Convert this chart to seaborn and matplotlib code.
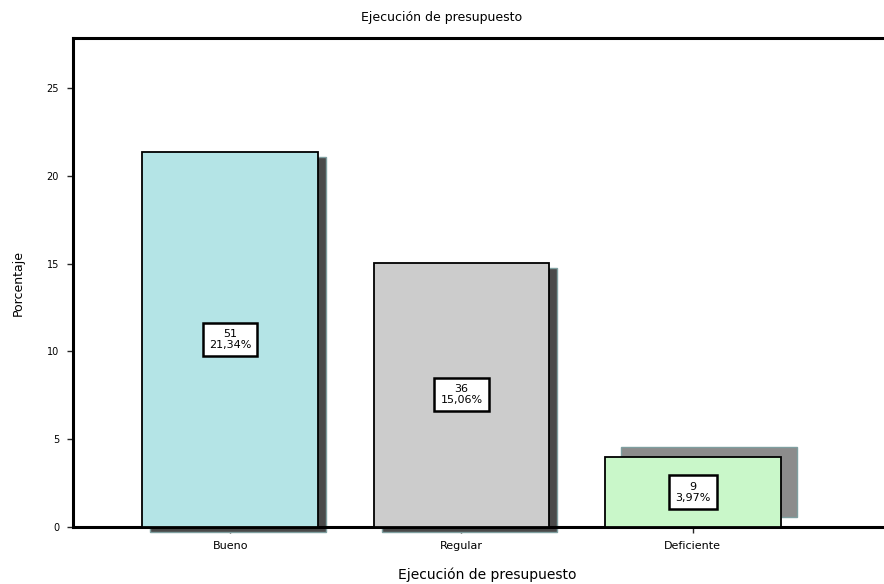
import matplotlib
matplotlib.use("Agg")
import matplotlib.pyplot as plt
import seaborn as sns
import numpy as np

# ---- data ----
categories = ["Bueno", "Regular", "Deficiente"]
percentages = [21.34, 15.06, 3.97]
counts = [51, 36, 9]
bar_colors = ["#b4e4e6", "#cccccc", "#c9f7c9"]
yticks = [0, 5, 10, 15, 20, 25]
title = "Ejecución de presupuesto"
xlabel = "Ejecución de presupuesto"
ylabel = "Porcentaje"

sns.set_theme(style="white")
plt.rcParams["font.family"] = ["DejaVu Sans"]

fig = plt.figure(figsize=(8.84, 5.84), dpi=100)
W, H = 884, 584
left_px, right_px, top_px, bottom_px = 73, 902, 38, 527
ax = fig.add_axes([left_px / W, 1 - bottom_px / H,
                   (right_px - left_px) / W, (bottom_px - top_px) / H])

bar_w = 0.76
sns.barplot(x=categories, y=percentages, hue=categories, palette=bar_colors,
            saturation=1, legend=False, width=bar_w, edgecolor="black",
            linewidth=1.3, ax=ax, zorder=3)

# 3D-like shadows behind the bars
px_x = 231.0   # pixels per category unit
px_y = 17.56   # pixels per percent unit
x = np.arange(len(categories))
shadow_dx = [8 / px_x, 8 / px_x, 16 / px_x]
shadow_dy = [-5 / px_y, -5 / px_y, 10 / px_y]
shadow_cols = ["#4a4a4a", "#4a4a4a", "#8c8c8c"]
for i in range(len(categories)):
    ax.bar(x[i] + shadow_dx[i], percentages[i], bottom=shadow_dy[i],
           width=bar_w, color=shadow_cols[i], edgecolor="#7f9fa0",
           linewidth=1.0, zorder=2, clip_on=False)

# value boxes
for i, (c, p) in enumerate(zip(counts, percentages)):
    pct = f"{p:.2f}%".replace(".", ",")
    ax.text(x[i], p / 2, f"{c}\n{pct}", ha="center", va="center",
            fontsize=8, zorder=5, linespacing=1.15, color="black",
            bbox=dict(boxstyle="square,pad=0.55", fc="white",
                      ec="black", lw=1.8))

ax.set_xlim(-(230 - left_px) / px_x, 2 + (right_px - 693) / px_x)
ax.set_ylim(0, (bottom_px - top_px) / px_y)
ax.set_yticks(yticks)
ax.set_yticklabels([str(t) for t in yticks], fontsize=7, color="black")
ax.tick_params(axis="x", labelsize=8, labelcolor="black", length=4, width=1,
               direction="out", bottom=True, pad=6)
ax.tick_params(axis="y", length=4, width=1, direction="out", left=True, pad=6)

for s in ["left", "top", "bottom"]:
    ax.spines[s].set_visible(True)
    ax.spines[s].set_color("black")
    ax.spines[s].set_linewidth(2.2)
ax.spines["right"].set_visible(False)

ax.set_xlabel(xlabel, fontsize=10, labelpad=12, color="black")
ax.set_ylabel(ylabel, fontsize=9, labelpad=16, color="black")
fig.text(0.5, 1 - 18 / H, title, ha="center", va="center", fontsize=9,
         color="black")

fig.savefig("out.png", dpi=100)
